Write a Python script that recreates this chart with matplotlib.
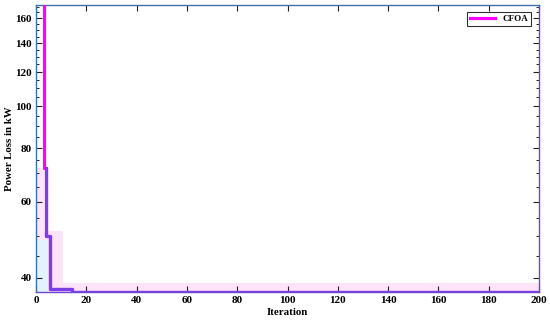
import matplotlib
matplotlib.use("Agg")
import matplotlib.pyplot as plt
from matplotlib.ticker import FixedLocator, FixedFormatter, NullFormatter

# convergence curve (breakpoints of a step curve)
cfoa_iter = [0, 3.2, 3.8, 5.6, 14.3, 200]
cfoa_loss = [400, 72, 50, 37.7, 37.2, 37.2]

best_iter = [3.8, 3.8, 5.6, 14.3, 200]
best_loss = [72, 50, 37.7, 37.2, 37.2]

# shaded spread bands (x range, lower, upper)
band_pink_x = [[0, 3.2], [0, 10.8], [0, 200]]
band_pink_lo = [50.5, 37.0, 37.0]
band_pink_hi = [72, 51.3, 38.9]
band_blue_x = [0, 4.8]
band_blue_lo = 37.0
band_blue_hi = 49

y_ticks = [40, 60, 80, 100, 120, 140, 160]
y_minor = [45, 50, 55, 65, 70, 75, 85, 90, 95, 105, 110, 115, 125, 130, 135,
           145, 150, 155, 165, 170]
x_ticks = list(range(0, 201, 20))

plt.rcParams["font.family"] = ["Liberation Serif", "DejaVu Serif"]
plt.rcParams["font.weight"] = "bold"

fig = plt.figure(figsize=(5.5, 3.22), dpi=100)
ax = fig.add_axes([0.0655, 0.093, 0.9145, 0.891])

for xs, lo, hi in zip(band_pink_x, band_pink_lo, band_pink_hi):
    ax.fill_between(xs, [lo, lo], [hi, hi], color="#fde4fa", lw=0, zorder=1)
ax.fill_between(band_blue_x, [band_blue_lo] * 2, [band_blue_hi] * 2,
                color="#e3f3fb", lw=0, zorder=1)

ax.plot(cfoa_iter, cfoa_loss, drawstyle="steps-post", color="#ff00ff",
        lw=2.3, label="CFOA", zorder=3)
ax.plot(best_iter, best_loss, drawstyle="steps-post", color="#7b3fe6",
        lw=2.3, zorder=4)

ax.set_yscale("log")
ax.set_xlim(0, 200)
ax.set_ylim(37.1, 171.5)
ax.yaxis.set_major_locator(FixedLocator(y_ticks))
ax.yaxis.set_major_formatter(FixedFormatter([str(t) for t in y_ticks]))
ax.yaxis.set_minor_locator(FixedLocator(y_minor))
ax.yaxis.set_minor_formatter(NullFormatter())
ax.set_xticks(x_ticks)

ax.tick_params(which="both", direction="in", top=True, right=True,
               labelsize=8, color="#222222", pad=3)
ax.tick_params(which="major", length=4, width=0.8)
ax.tick_params(which="minor", length=2.2, width=0.7)

for side in ["left", "top"]:
    ax.spines[side].set_color("#3a73a8")
for side in ["right", "bottom"]:
    ax.spines[side].set_color("#6a48d6")
for s in ax.spines.values():
    s.set_linewidth(1.0)

ax.set_xlabel("Iteration", fontsize=7.8, fontweight="bold", labelpad=2)
ax.set_ylabel("Power Loss in kW", fontsize=7.8, fontweight="bold", labelpad=1)

leg = ax.legend(loc="upper right", fontsize=6.5, frameon=True, fancybox=False,
                edgecolor="black", handlelength=2.8, borderpad=0.3,
                borderaxespad=0, bbox_to_anchor=(0.984, 0.976))
leg.get_frame().set_linewidth(0.8)

fig.savefig("out.png", dpi=100)
